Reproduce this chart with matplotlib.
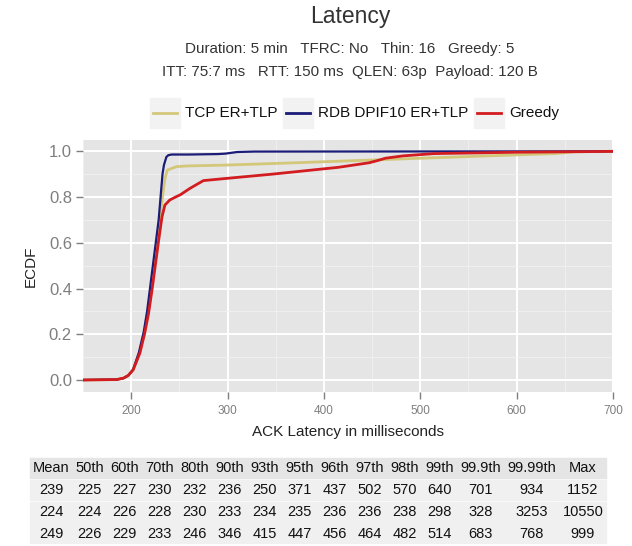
import matplotlib
matplotlib.use("Agg")
import matplotlib.pyplot as plt
from matplotlib.patches import Rectangle
from matplotlib.lines import Line2D
from matplotlib.ticker import MultipleLocator

plt.rcParams['font.family'] = ['Liberation Sans', 'DejaVu Sans']

# ECDF curves (latency ms, cumulative fraction)
tcp_x = [150, 185, 192, 197, 202, 208.5, 213.5, 217, 220.5, 223.5, 227, 230, 232.5, 235, 237.5, 247, 258,
         300, 371, 437, 502, 570, 640, 660, 700]
tcp_y = [0.0, 0.002, 0.008, 0.02, 0.045, 0.12, 0.205, 0.29, 0.39, 0.5, 0.61, 0.71, 0.8, 0.88, 0.918, 0.933, 0.936,
         0.94, 0.95, 0.96, 0.97, 0.98, 0.99, 0.998, 1.0]

rdb_x = [150, 185, 192, 197, 202, 208, 213, 216.5, 219.5, 222.5, 225.5, 228.5, 230.5, 232.5, 234, 236.5, 238.5,
         242, 260, 290, 298, 310, 328, 700]
rdb_y = [0.0, 0.002, 0.008, 0.02, 0.046, 0.12, 0.21, 0.3, 0.4, 0.5, 0.6, 0.7, 0.8, 0.9, 0.94, 0.975, 0.983,
         0.986, 0.986, 0.988, 0.99, 0.997, 0.999, 1.0]

greedy_x = [150, 185, 192, 197, 202, 209, 214, 218, 221.5, 225, 228.5, 232, 235, 240, 246, 251, 261, 275,
            300, 346, 415, 447, 456, 464, 482, 514, 600, 683, 700]
greedy_y = [0.0, 0.002, 0.008, 0.02, 0.044, 0.117, 0.204, 0.29, 0.39, 0.5, 0.61, 0.714, 0.765, 0.787, 0.8, 0.81,
            0.838, 0.872, 0.882, 0.9, 0.93, 0.95, 0.96, 0.97, 0.98, 0.99, 0.996, 0.999, 1.0]

series_names = ['TCP ER+TLP', 'RDB DPIF10 ER+TLP', 'Greedy']
series_colors = ['#d3c77a', '#1b1b78', '#d21c20']

table_header = ['Mean', '50th', '60th', '70th', '80th', '90th', '93th', '95th', '96th', '97th',
                '98th', '99th', '99.9th', '99.99th', 'Max']
tcp_stats = [239, 225, 227, 230, 232, 236, 250, 371, 437, 502, 570, 640, 701, 934, 1152]
rdb_stats = [224, 224, 226, 228, 230, 233, 234, 235, 236, 236, 238, 298, 328, 3253, 10550]
greedy_stats = [249, 226, 229, 233, 246, 346, 415, 447, 456, 464, 482, 514, 683, 768, 999]

W, H = 632, 546
fig = plt.figure(figsize=(W / 100, H / 100), dpi=100)


def fx(px):
    return px / W


def fy(py):
    return 1 - py / H


ax = fig.add_axes([fx(83), fy(392), fx(613) - fx(83), fy(140) - fy(392)])
ax.set_facecolor('#e5e5e5')
for s in ax.spines.values():
    s.set_visible(False)
ax.set_xlim(150, 700)
ax.set_ylim(-0.0525, 1.0495)
ax.xaxis.set_major_locator(MultipleLocator(100))
ax.xaxis.set_minor_locator(MultipleLocator(50))
ax.yaxis.set_major_locator(MultipleLocator(0.2))
ax.yaxis.set_minor_locator(MultipleLocator(0.1))
ax.grid(which='major', color='white', lw=1.4)
ax.grid(which='minor', color='#f2f2f2', lw=0.6)
ax.set_axisbelow(True)
ax.tick_params(which='minor', length=0)
ax.tick_params(which='major', length=5, width=1, color='#7f7f7f')
ax.tick_params(axis='x', labelsize=8.5, labelcolor='#7f7f7f', pad=4)
ax.tick_params(axis='y', labelsize=12, labelcolor='#7f7f7f', pad=3)
ax.set_xticks([200, 300, 400, 500, 600, 700])
ax.yaxis.set_major_formatter(plt.FuncFormatter(lambda v, p: f'{v:.1f}'))

for xs, ys, c, lw in [(tcp_x, tcp_y, series_colors[0], 2.0),
                      (rdb_x, rdb_y, series_colors[1], 1.6),
                      (greedy_x, greedy_y, series_colors[2], 2.0)]:
    ax.plot(xs, ys, color=c, lw=lw, solid_capstyle='butt')

ax.set_xlabel('ACK Latency in milliseconds', fontsize=11, color='#222222', labelpad=6)
ax.set_ylabel('ECDF', fontsize=11, color='#222222', labelpad=8)

# titles
fig.text(fx(350), fy(17), 'Latency', ha='center', va='center', fontsize=16.5, color='#333333')
fig.text(fx(350), fy(49), 'Duration: 5 min   TFRC: No   Thin: 16   Greedy: 5',
         ha='center', va='center', fontsize=10.9, color='#333333')
fig.text(fx(350), fy(72), 'ITT: 75:7 ms   RTT: 150 ms  QLEN: 63p  Payload: 120 B',
         ha='center', va='center', fontsize=10.9, color='#333333')

# legend
key_left = [150, 283, 474]
for name, col, kx in zip(series_names, series_colors, key_left):
    fig.patches.append(Rectangle((fx(kx), fy(128)), fx(30), fy(98) - fy(128),
                                 transform=fig.transFigure, color='#f2f2f2', zorder=1))
    fig.lines.append(Line2D([fx(kx + 3), fx(kx + 27)], [fy(113), fy(113)],
                            transform=fig.transFigure, color=col, lw=2.0, zorder=2))
    fig.text(fx(kx + 35), fy(113), name, ha='left', va='center', fontsize=11, color='#111111')

# table
col_widths = [42, 35, 35, 35, 35, 35, 35, 35, 35, 35, 35, 35, 47, 55, 48]
row_tops = [458, 480, 502, 523]
row_h = 21
rows = [table_header, tcp_stats, rdb_stats, greedy_stats]
for r, (vals, top) in enumerate(zip(rows, row_tops)):
    x = 30
    bg = '#e5e5e5' if r == 0 else '#f0f0f0'
    for v, w in zip(vals, col_widths):
        fig.patches.append(Rectangle((fx(x), fy(top + row_h - 1)), fx(w - 1), fy(top) - fy(top + row_h - 1),
                                     transform=fig.transFigure, color=bg, zorder=1))
        fig.text(fx(x + w / 2), fy(top + row_h / 2), str(v), ha='center', va='center',
                 fontsize=10.5, color='#111111')
        x += w

fig.savefig('out.png', dpi=100)
